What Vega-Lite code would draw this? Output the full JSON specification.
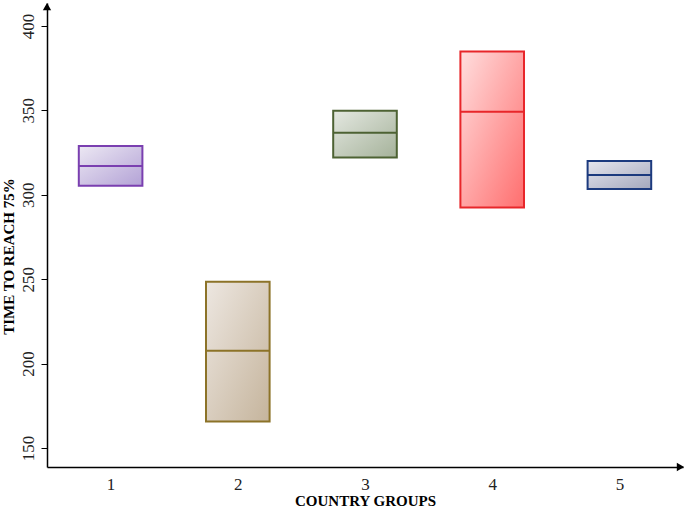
{
  "$schema": "https://vega.github.io/schema/vega-lite/v6.json",
  "width": 636,
  "height": 464,
  "autosize": "none",
  "padding": {"left": 47, "top": 3, "right": 2, "bottom": 42},
  "background": "white",
  "config": {
    "view": {"stroke": null},
    "font": "Liberation Serif",
    "axis": {"grid": false, "domainColor": "black", "domainWidth": 1.5, "tickColor": "black", "labelColor": "#222", "titleColor": "black", "labelFont": "Liberation Serif", "titleFont": "Liberation Serif"}
  },
  "datasets": {
    "boxes": [
      {"group": 1, "low": 305.4, "median": 317.1, "high": 328.9},
      {"group": 2, "low": 165.6, "median": 207.5, "high": 248.5},
      {"group": 3, "low": 322.0, "median": 336.8, "high": 349.8},
      {"group": 4, "low": 292.4, "median": 349.2, "high": 384.8},
      {"group": 5, "low": 303.4, "median": 311.7, "high": 320.0}
    ],
    "arrows": [
      {"x": 0.5, "y": 411.5, "shape": "triangle-up"},
      {"x": 5.48, "y": 138.7, "shape": "triangle-right"}
    ]
  },
  "data": {"name": "boxes"},
  "transform": [
    {"calculate": "datum.group - 0.25", "as": "x0"},
    {"calculate": "datum.group + 0.25", "as": "x1"}
  ],
  "encoding": {
    "x": {"field": "x0", "type": "quantitative", "scale": {"domain": [0.5, 5.5], "nice": false, "zero": false},
      "axis": {"values": [1, 2, 3, 4, 5], "format": "d", "ticks": false, "labelFontSize": 17, "labelPadding": 9, "title": "COUNTRY GROUPS", "titleFontSize": 15, "titleFontWeight": "bold", "titleBaseline": "middle", "titleY": 33}},
    "y": {"field": "low", "type": "quantitative", "scale": {"domain": [138.7, 413.6], "nice": false, "zero": false},
      "axis": {"values": [150, 200, 250, 300, 350, 400], "tickSize": 6, "labelAngle": -90, "labelAlign": "center", "labelBaseline": "bottom", "labelFontSize": 17, "labelPadding": 4, "title": "TIME TO REACH 75%", "titleFontSize": 15, "titleFontWeight": "bold", "titleBaseline": "middle", "titleAngle": -90, "titleX": -39, "titleY": 253}}
  },
  "layer": [
    {"transform": [{"filter": "datum.group == 1"}], "mark": {"type": "rect", "strokeWidth": 2, "stroke": "#7a3fb0",
      "fill": {"gradient": "linear", "x1": 0, "y1": 0, "x2": 1, "y2": 1, "stops": [{"offset": 0, "color": "#ece8f3"}, {"offset": 1, "color": "#b3a2d6"}]}},
      "encoding": {"x2": {"field": "x1"}, "y2": {"field": "high"}}},
    {"transform": [{"filter": "datum.group == 2"}], "mark": {"type": "rect", "strokeWidth": 2, "stroke": "#8c7328",
      "fill": {"gradient": "linear", "x1": 0, "y1": 0, "x2": 1, "y2": 1, "stops": [{"offset": 0, "color": "#ede7e1"}, {"offset": 1, "color": "#c5b49c"}]}},
      "encoding": {"x2": {"field": "x1"}, "y2": {"field": "high"}}},
    {"transform": [{"filter": "datum.group == 3"}], "mark": {"type": "rect", "strokeWidth": 2, "stroke": "#4d6233",
      "fill": {"gradient": "linear", "x1": 0, "y1": 0, "x2": 1, "y2": 1, "stops": [{"offset": 0, "color": "#e4e8e1"}, {"offset": 1, "color": "#a5b29a"}]}},
      "encoding": {"x2": {"field": "x1"}, "y2": {"field": "high"}}},
    {"transform": [{"filter": "datum.group == 4"}], "mark": {"type": "rect", "strokeWidth": 2, "stroke": "#e8262a",
      "fill": {"gradient": "linear", "x1": 0, "y1": 0, "x2": 1, "y2": 1, "stops": [{"offset": 0, "color": "#ffdede"}, {"offset": 1, "color": "#ff6e6e"}]}},
      "encoding": {"x2": {"field": "x1"}, "y2": {"field": "high"}}},
    {"transform": [{"filter": "datum.group == 5"}], "mark": {"type": "rect", "strokeWidth": 2, "stroke": "#1c3a7e",
      "fill": {"gradient": "linear", "x1": 0, "y1": 0, "x2": 1, "y2": 1, "stops": [{"offset": 0, "color": "#e6e6ee"}, {"offset": 1, "color": "#a4a8bd"}]}},
      "encoding": {"x2": {"field": "x1"}, "y2": {"field": "high"}}},
    {"mark": {"type": "rule", "strokeWidth": 2},
      "encoding": {"x2": {"field": "x1"}, "y": {"field": "median", "type": "quantitative"},
        "color": {"field": "group", "type": "nominal", "legend": null, "scale": {"domain": [1, 2, 3, 4, 5], "range": ["#7a3fb0", "#8c7328", "#4d6233", "#e8262a", "#1c3a7e"]}}}},
    {"data": {"name": "arrows"}, "transform": [], "mark": {"type": "point", "filled": true, "color": "black", "opacity": 1, "size": 70, "clip": false},
      "encoding": {"x": {"field": "x", "type": "quantitative"}, "y": {"field": "y", "type": "quantitative"}, "shape": {"field": "shape", "type": "nominal", "scale": null, "legend": null}}}
  ]
}
